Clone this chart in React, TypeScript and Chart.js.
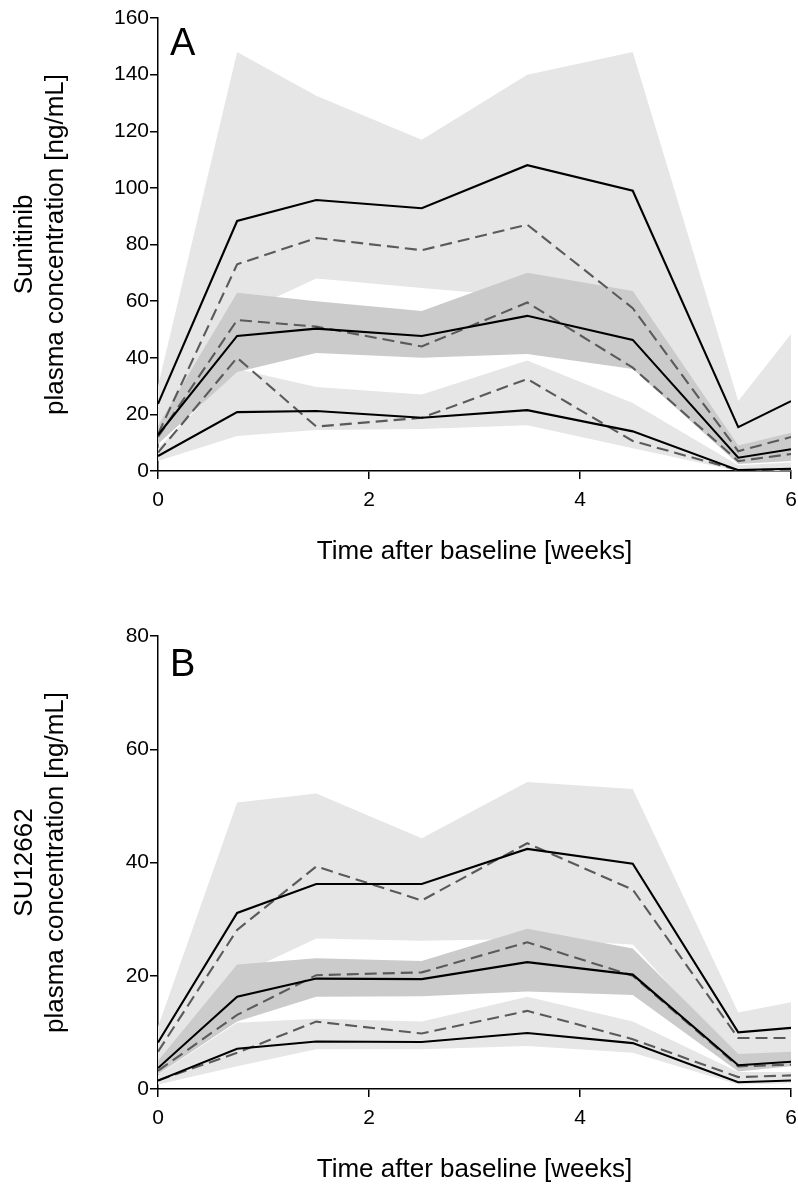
import React, { useEffect, useRef } from "react";
import { Chart, registerables } from "chart.js";

Chart.register(...registerables);

// ---- data ----
const times = [0, 0.75, 1.5, 2.5, 3.5, 4.5, 5.5, 6];
const xTicks = [0, 2, 4, 6];

// Panel A: Sunitinib
const aUpperSolid = [23.7, 88.3, 95.7, 92.8, 108, 99, 15.5, 24.7];
const aUpperDash = [13, 73, 82.3, 78, 87, 57.5, 7, 12];
const aUpperBandLow = [10, 55, 68, 64.6, 61.5, 60, 4, 7];
const aUpperBandHigh = [30, 148, 132.5, 117, 140, 148, 24.7, 48.4];
const aMidSolid = [12.7, 47.7, 50.3, 47.7, 54.8, 46.3, 4.7, 7.7];
const aMidDash = [12, 53.3, 51, 44, 59.5, 36.5, 3.5, 6];
const aMidBandLow = [9.5, 35, 41.7, 40, 41.3, 36, 2.5, 3.5];
const aMidBandHigh = [16, 63, 60, 56.5, 70, 63.6, 9, 13.5];
const aLowSolid = [5.3, 20.8, 21.2, 18.8, 21.5, 14, 0.3, 0.8];
const aLowDash = [6.5, 40, 15.7, 18.8, 32.5, 10.6, 0.3, 0.5];
const aLowBandLow = [3.5, 12.4, 14.5, 14.8, 16.2, 8, 0, 0];
const aLowBandHigh = [8, 36, 29.7, 27, 39, 24, 2, 3];

// Panel B: SU12662
const bUpperSolid = [8.2, 31.1, 36.2, 36.2, 42.4, 39.8, 10, 10.8];
const bUpperDash = [6.6, 28.1, 39.3, 33.3, 43.4, 35.2, 9, 9];
const bUpperBandLow = [4, 20, 26.6, 26.2, 26.5, 25.5, 5, 6];
const bUpperBandHigh = [11, 50.6, 52.2, 44.3, 54.2, 53, 13.5, 15.3];
const bMidSolid = [3.7, 16.3, 19.5, 19.4, 22.4, 20.2, 4.2, 4.8];
const bMidDash = [3.2, 13.1, 20.1, 20.6, 25.9, 20, 4, 4.3];
const bMidBandLow = [2.6, 11.9, 16.3, 16.4, 17.2, 16.6, 3.1, 4];
const bMidBandHigh = [5, 22, 23.1, 22.6, 28.3, 24.8, 6.2, 6.6];
const bLowSolid = [1.5, 7.1, 8.4, 8.3, 9.9, 8.1, 1.2, 1.5];
const bLowDash = [1.5, 6.4, 11.9, 9.8, 13.8, 8.8, 2.1, 2.4];
const bLowBandLow = [0.8, 4, 7, 7, 7.6, 6.4, 0.8, 1];
const bLowBandHigh = [2.5, 11.7, 12.4, 11.9, 16.3, 11.9, 3, 3];

const FONT = '"Liberation Sans", Arial, sans-serif';
const LIGHT = "#e6e6e6";
const DARK = "#cbcbcb";
const DASH_COLOR = "#5a5a5a";

const pts = (ys: number[]) => ys.map((y, i) => ({ x: times[i], y }));

function band(low: number[], high: number[], color: string, order: number) {
  return [
    { data: pts(low), borderWidth: 0, pointRadius: 0, fill: false, order, borderColor: "rgba(0,0,0,0)" },
    { data: pts(high), borderWidth: 0, pointRadius: 0, fill: "-1", backgroundColor: color, order, borderColor: "rgba(0,0,0,0)" },
  ];
}
function line(ys: number[], dashed: boolean) {
  return {
    data: pts(ys),
    borderColor: dashed ? DASH_COLOR : "#000",
    borderWidth: 2.1,
    borderDash: dashed ? [12, 6] : [],
    pointRadius: 0,
    fill: false,
    tension: 0,
    order: dashed ? 2 : 1,
  };
}

type PanelProps = {
  label: string;
  title1: string;
  yMax: number;
  yStep: number;
  height: number;
  areaTop: number;
  areaBottom: number;
  titleCenter: number;
  labelOffset: number;
  bands: any[];
  lines: any[];
};

function Panel(p: PanelProps) {
  const ref = useRef<HTMLCanvasElement | null>(null);
  useEffect(() => {
    if (!ref.current) return;
    const titleFont = 26;
    const lh = titleFont * 1.2;
    const labelPlugin = {
      id: "panelLabel",
      afterDraw(chart: any) {
        const { ctx, chartArea } = chart;
        ctx.save();
        ctx.font = `38px ${FONT}`;
        ctx.fillStyle = "#000";
        ctx.textBaseline = "alphabetic";
        ctx.textAlign = "left";
        ctx.fillText(p.label, chartArea.left + 12, chartArea.top + p.labelOffset);
        ctx.restore();
      },
    };
    const chart = new Chart(ref.current, {
      type: "line",
      data: { datasets: [...p.bands, ...p.lines] as any },
      options: {
        animation: false,
        responsive: false,
        devicePixelRatio: 1,
        layout: { padding: { top: p.areaTop, right: 7, left: 0, bottom: 0 } },
        plugins: { legend: { display: false }, tooltip: { enabled: false } },
        scales: {
          x: {
            type: "linear",
            min: 0,
            max: 6,
            afterBuildTicks: (s: any) => {
              s.ticks = xTicks.map((v) => ({ value: v }));
            },
            afterFit: (s: any) => {
              s.height = p.height - p.areaBottom;
              s.paddingRight = 0;
              s.paddingLeft = 0;
            },
            grid: { display: true, drawOnChartArea: false, drawTicks: true, tickLength: 8, color: "#000", lineWidth: 1.5 },
            border: { display: true, color: "#000", width: 1.5 },
            ticks: { color: "#000", font: { size: 21, family: FONT }, padding: 9, maxRotation: 0, autoSkip: false },
            title: {
              display: true,
              text: "Time after baseline [weeks]",
              color: "#000",
              font: { size: titleFont, family: FONT },
              padding: { top: 0, bottom: p.height - p.titleCenter - lh / 2 },
            },
          },
          y: {
            type: "linear",
            min: 0,
            max: p.yMax,
            ticks: { stepSize: p.yStep, color: "#000", font: { size: 21, family: FONT }, padding: 1 },
            afterFit: (s: any) => {
              s.width = 158;
              s.paddingTop = 0;
              s.paddingBottom = 0;
            },
            grid: { display: true, drawOnChartArea: false, drawTicks: true, tickLength: 8, color: "#000", lineWidth: 1.5 },
            border: { display: true, color: "#000", width: 1.5 },
            title: {
              display: true,
              text: [p.title1, "plasma concentration [ng/mL]"],
              color: "#000",
              font: { size: titleFont, family: FONT },
              padding: { top: 9, bottom: 0 },
            },
          },
        },
      } as any,
      plugins: [labelPlugin],
    });
    return () => chart.destroy();
  }, []);
  return <canvas ref={ref} width={798} height={p.height} style={{ display: "block", width: 798, height: p.height }} />;
}

export default function App() {
  const bandsA = [
    ...band(aUpperBandLow, aUpperBandHigh, LIGHT, 30),
    ...band(aLowBandLow, aLowBandHigh, LIGHT, 30),
    ...band(aMidBandLow, aMidBandHigh, DARK, 20),
  ];
  const linesA = [
    line(aUpperSolid, false), line(aMidSolid, false), line(aLowSolid, false),
    line(aUpperDash, true), line(aMidDash, true), line(aLowDash, true),
  ];
  const bandsB = [
    ...band(bUpperBandLow, bUpperBandHigh, LIGHT, 30),
    ...band(bLowBandLow, bLowBandHigh, LIGHT, 30),
    ...band(bMidBandLow, bMidBandHigh, DARK, 20),
  ];
  const linesB = [
    line(bUpperSolid, false), line(bMidSolid, false), line(bLowSolid, false),
    line(bUpperDash, true), line(bMidDash, true), line(bLowDash, true),
  ];
  return (
    <div style={{ position: "absolute", left: 0, top: 0, width: 798, height: 1187, background: "#fff" }}>
      <Panel label="A" title1="Sunitinib" yMax={160} yStep={20} height={594} areaTop={18} areaBottom={471}
        titleCenter={552} labelOffset={37} bands={bandsA} lines={linesA} />
      <Panel label="B" title1="SU12662" yMax={80} yStep={20} height={593} areaTop={42} areaBottom={495}
        titleCenter={576} labelOffset={40} bands={bandsB} lines={linesB} />
    </div>
  );
}
